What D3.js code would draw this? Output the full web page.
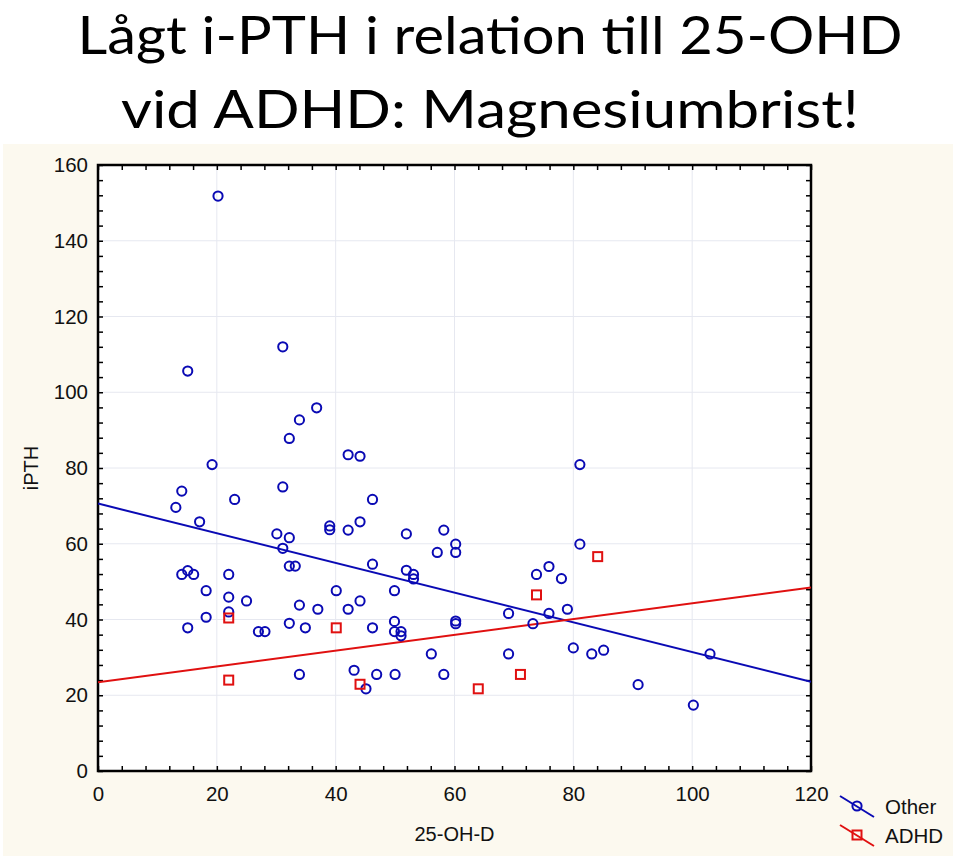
<!DOCTYPE html>
<html><head><meta charset="utf-8">
<script src="https://cdn.jsdelivr.net/npm/d3@7"></script>
<style>body{margin:0;background:#fff} svg{display:block}</style>
</head><body>
<svg id="chart" width="960" height="862"></svg>
<script>
const titleLines = ["Lågt i-PTH i relation till 25-OHD", "vid ADHD: Magnesiumbrist!"];
const seriesNames = ["Other", "ADHD"];
const xLabel = "25-OH-D";
const yLabel = "iPTH";
const xTicks = [0, 20, 40, 60, 80, 100, 120];
const yTicks = [0, 20, 40, 60, 80, 100, 120, 140, 160];

const otherX = [20.2, 15.1, 31.1, 36.8, 33.9, 32.2, 42.1, 44.1, 19.2, 81.1,
  31.1, 14.1, 23.0, 46.2, 13.1, 17.1, 44.1, 39.0, 39.0, 42.1,
  30.1, 51.9, 58.2, 32.2, 60.2, 81.1, 31.1, 57.1, 60.2, 46.2,
  75.9, 32.2, 33.2, 51.9, 15.1, 14.1, 16.1, 22.0, 53.1, 73.8,
  53.1, 78.0, 18.2, 40.1, 49.9, 22.0, 25.0, 44.1, 33.9, 37.0,
  42.1, 79.0, 22.0, 69.1, 75.9, 18.2, 49.9, 60.2, 60.2, 32.2,
  73.2, 15.1, 34.9, 46.2, 27.0, 28.1, 49.9, 51.0, 51.0, 80.0,
  85.1, 56.1, 69.1, 83.1, 103.0, 43.1, 33.9, 46.9, 50.0, 58.2,
  90.9, 45.1, 100.2];
const otherY = [151.8, 105.6, 112.0, 95.9, 92.7, 87.8, 83.5, 83.1, 80.9, 80.9,
  75.0, 73.9, 71.7, 71.7, 69.6, 65.8, 65.8, 64.7, 63.7, 63.6,
  62.6, 62.6, 63.6, 61.6, 59.9, 59.9, 58.8, 57.7, 57.7, 54.6,
  54.0, 54.1, 54.1, 53.0, 52.9, 51.9, 51.9, 51.9, 51.9, 51.9,
  50.7, 50.8, 47.6, 47.6, 47.6, 45.9, 44.9, 44.9, 43.8, 42.7,
  42.7, 42.7, 42.0, 41.6, 41.6, 40.6, 39.5, 39.6, 38.9, 39.0,
  38.9, 37.8, 37.8, 37.8, 36.8, 36.8, 36.8, 36.8, 35.7, 32.5,
  31.9, 30.9, 30.9, 30.9, 30.9, 26.6, 25.5, 25.5, 25.5, 25.5,
  22.8, 21.7, 17.4];
const adhdX = [22.0, 22.0, 40.1, 44.1, 64.0, 71.1, 73.8, 84.1];
const adhdY = [40.4, 24.0, 37.8, 22.9, 21.7, 25.5, 46.5, 56.6];

const blue = "#0a0ab4", red = "#e01010";
const svg = d3.select("#chart");
const L = 98, R = 811, T = 165, B = 771;
const x = d3.scaleLinear().domain([0, 120]).range([L, R]);
const y = d3.scaleLinear().domain([0, 160]).range([B, T]);

// cream panel
svg.append("rect").attr("x", 3).attr("y", 144).attr("width", 950).attr("height", 712).attr("fill", "#fcf9ef");

// title
const titleWidths = [825, 738];
svg.selectAll("text.title").data(titleLines).join("text")
  .attr("class", "title")
  .attr("x", 490).attr("y", (d, i) => 54 + i * 74)
  .attr("text-anchor", "middle")
  .attr("font-family", "Lato, 'Open Sans', sans-serif")
  .attr("font-size", 53)
  .attr("textLength", (d, i) => titleWidths[i])
  .attr("lengthAdjust", "spacingAndGlyphs")
  .attr("fill", "#000")
  .text(d => d);

// plot area
svg.append("rect").attr("x", L).attr("y", T).attr("width", R - L).attr("height", B - T).attr("fill", "#fff");

// grid
const g = svg.append("g");
g.selectAll("line.gx").data(xTicks.slice(1, -1)).join("line")
  .attr("x1", d => x(d)).attr("x2", d => x(d)).attr("y1", T).attr("y2", B)
  .attr("stroke", "#e6e8f0").attr("stroke-width", 1);
g.selectAll("line.gy").data(yTicks.slice(1, -1)).join("line")
  .attr("x1", L).attr("x2", R).attr("y1", d => y(d)).attr("y2", d => y(d))
  .attr("stroke", "#e6e8f0").attr("stroke-width", 1);

// axes
const font = "'Liberation Sans', Arial, sans-serif";
const minorX = d3.range(0, 121, 4);
const minorY = d3.range(0, 161, 4);
const xAxB = svg.append("g").attr("transform", `translate(0,${B})`)
  .call(d3.axisBottom(x).tickValues(minorX).tickSize(-5).tickFormat(""));
const xAxT = svg.append("g").attr("transform", `translate(0,${T})`)
  .call(d3.axisTop(x).tickValues(minorX).tickSize(-5).tickFormat(""));
const yAxL = svg.append("g").attr("transform", `translate(${L},0)`)
  .call(d3.axisLeft(y).tickValues(minorY).tickSize(-5).tickFormat(""));
const yAxR = svg.append("g").attr("transform", `translate(${R},0)`)
  .call(d3.axisRight(y).tickValues(minorY).tickSize(-5).tickFormat(""));
[xAxB, xAxT, yAxL, yAxR].forEach(a => {
  a.select(".domain").remove();
  a.selectAll(".tick line").attr("stroke", "#000").attr("stroke-width", 1.5);
});
// labels
const xLab = svg.append("g").attr("transform", `translate(0,${B})`)
  .call(d3.axisBottom(x).tickValues(xTicks).tickSize(0).tickPadding(15).tickFormat(d3.format("d")));
xLab.select(".domain").remove();
xLab.selectAll("text").attr("font-family", font).attr("font-size", 20.5).attr("fill", "#111");
const yLab = svg.append("g").attr("transform", `translate(${L},0)`)
  .call(d3.axisLeft(y).tickValues(yTicks).tickSize(0).tickPadding(10).tickFormat(d3.format("d")));
yLab.select(".domain").remove();
yLab.selectAll("text").attr("font-family", font).attr("font-size", 20.5).attr("fill", "#111");

// frame
svg.append("rect").attr("x", L).attr("y", T).attr("width", R - L).attr("height", B - T)
  .attr("fill", "none").attr("stroke", "#000").attr("stroke-width", 2.5);

// axis titles
svg.append("text").attr("x", x(60)).attr("y", 841).attr("text-anchor", "middle")
  .attr("font-family", font).attr("font-size", 20).attr("fill", "#111").text(xLabel);
svg.append("text").attr("transform", `translate(38,${y(80)}) rotate(-90)`).attr("text-anchor", "middle")
  .attr("font-family", font).attr("font-size", 20).attr("fill", "#111").text(yLabel);

// regression
function fit(xs, ys) {
  const mx = d3.mean(xs), my = d3.mean(ys);
  let sxy = 0, sxx = 0;
  xs.forEach((v, i) => { sxy += (v - mx) * (ys[i] - my); sxx += (v - mx) ** 2; });
  const b = sxy / sxx;
  return [my - b * mx, b];
}
const clipId = "plotclip";
svg.append("clipPath").attr("id", clipId).append("rect").attr("x", L).attr("y", T).attr("width", R - L).attr("height", B - T);
const series = [
  {name: seriesNames[0], xs: otherX, ys: otherY, color: blue, shape: "circle"},
  {name: seriesNames[1], xs: adhdX, ys: adhdY, color: red, shape: "square"}
];
const pl = svg.append("g").attr("clip-path", `url(#${clipId})`);
series.forEach(s => {
  const [a, b] = fit(s.xs, s.ys);
  pl.append("line").attr("x1", x(0)).attr("y1", y(a)).attr("x2", x(120)).attr("y2", y(a + b * 120))
    .attr("stroke", s.color).attr("stroke-width", 2);
});
series.forEach(s => {
  const pts = s.xs.map((v, i) => [v, s.ys[i]]);
  if (s.shape === "circle") {
    pl.selectAll(null).data(pts).join("circle")
      .attr("cx", d => x(d[0])).attr("cy", d => y(d[1])).attr("r", 4.6)
      .attr("fill", "none").attr("stroke", s.color).attr("stroke-width", 2);
  } else {
    pl.selectAll(null).data(pts).join("rect")
      .attr("x", d => x(d[0]) - 4.5).attr("y", d => y(d[1]) - 4.5).attr("width", 9).attr("height", 9)
      .attr("fill", "none").attr("stroke", s.color).attr("stroke-width", 2);
  }
});

// legend
series.forEach((s, i) => {
  const cy = 806 + i * 29;
  const lg = svg.append("g");
  lg.append("line").attr("x1", 840).attr("y1", cy - 10).attr("x2", 874).attr("y2", cy + 11)
    .attr("stroke", s.color).attr("stroke-width", 2);
  if (s.shape === "circle") {
    lg.append("circle").attr("cx", 857).attr("cy", cy).attr("r", 4.6).attr("fill", "none").attr("stroke", s.color).attr("stroke-width", 2);
  } else {
    lg.append("rect").attr("x", 852.5).attr("y", cy - 4.5).attr("width", 9).attr("height", 9).attr("fill", "none").attr("stroke", s.color).attr("stroke-width", 2);
  }
  lg.append("text").attr("x", 885).attr("y", cy + 7.5).attr("font-family", font).attr("font-size", 20.5)
    .attr("fill", "#111").text(s.name);
});
</script>
</body></html>
